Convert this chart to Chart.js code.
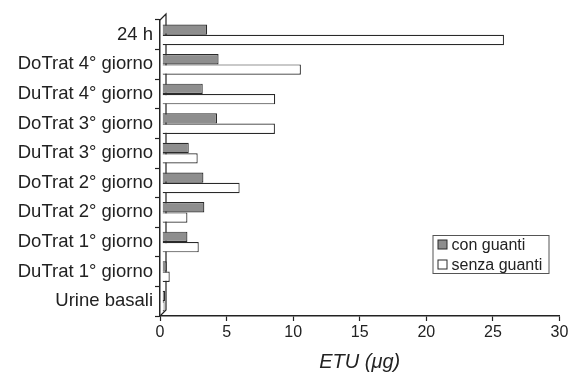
<!DOCTYPE html>
<html>
<head>
<meta charset="utf-8">
<script src="https://cdn.jsdelivr.net/npm/chart.js@4"></script>
<style>
  html, body { margin: 0; padding: 0; background: #fff; }
  #wrap { width: 568px; height: 377px; }
</style>
</head>
<body>
<div id="wrap"><canvas id="myChart" width="568" height="377"></canvas></div>
<script>
// categories top -> bottom
const categories = ["24 h", "DoTrat 4° giorno", "DuTrat 4° giorno", "DoTrat 3° giorno", "DuTrat 3° giorno",
  "DoTrat 2° giorno", "DuTrat 2° giorno", "DoTrat 1° giorno", "DuTrat 1° giorno", "Urine basali"];
const conGuanti = [3.54, 4.40, 3.21, 4.28, 2.16, 3.26, 3.33, 2.06, 0.51, 0.39];
const senzaGuanti = [25.83, 10.58, 8.65, 8.63, 2.83, 5.98, 2.06, 2.91, 0.73, 0.34];
const xTicks = [0, 5, 10, 15, 20, 25, 30];

const ink = "#222";
const font = "Arial, 'Liberation Sans', sans-serif";

// pseudo 3d back wall lines like the excel chart
const wallPlugin = {
  id: "wall",
  beforeDatasetsDraw(chart) {
    const a = chart.chartArea, ctx = chart.ctx, d = 6;
    ctx.save();
    ctx.strokeStyle = ink;
    ctx.lineWidth = 1.2;
    ctx.beginPath();
    ctx.moveTo(a.left, a.top);
    ctx.lineTo(a.left + d, a.top - d);
    ctx.lineTo(a.left + d, a.bottom - d);
    ctx.lineTo(a.left, a.bottom);
    ctx.stroke();
    ctx.restore();
  }
};

// boxed legend inside plot area
const legendBox = {
  id: "legendBox",
  afterDraw(chart) {
    const a = chart.chartArea, ctx = chart.ctx;
    const x1 = a.right - 127, x2 = a.right - 11, y1 = a.bottom - 81, y2 = a.bottom - 43;
    ctx.save();
    ctx.fillStyle = "#fff";
    ctx.fillRect(x1, y1, x2 - x1, y2 - y1);
    ctx.strokeStyle = "#555";
    ctx.lineWidth = 1;
    ctx.strokeRect(x1 + 0.5, y1 + 0.5, x2 - x1, y2 - y1);
    ctx.font = "16px " + font;
    ctx.textBaseline = "middle";
    chart.data.datasets.forEach((ds, i) => {
      const cy = y1 + 9.5 + i * 20;
      ctx.fillStyle = ds.backgroundColor;
      ctx.fillRect(x1 + 5.5, cy - 4.5, 9, 9);
      ctx.strokeStyle = ds.borderColor;
      ctx.strokeRect(x1 + 5.5, cy - 4.5, 9, 9);
      ctx.fillStyle = ink;
      ctx.fillText(ds.label, x1 + 19, cy + 1);
    });
    ctx.restore();
  }
};

const barStyle = { borderColor: "#2a2a2a", borderWidth: 1.2, base: 0.2, categoryPercentage: 0.7, barPercentage: 1 };

new Chart("myChart", {
  type: "bar",
  data: {
    labels: categories,
    datasets: [
      Object.assign({ label: "con guanti", data: conGuanti, backgroundColor: "#8e8e8e" }, barStyle),
      Object.assign({ label: "senza guanti", data: senzaGuanti, backgroundColor: "#fff" }, barStyle)
    ]
  },
  options: {
    indexAxis: "y",
    responsive: false,
    animation: false,
    layout: { padding: { top: 20, right: 8.5, left: 0, bottom: 0 } },
    plugins: { legend: { display: false }, tooltip: { enabled: false } },
    scales: {
      x: {
        min: 0, max: 30,
        afterBuildTicks: (s) => { s.ticks = xTicks.map(v => ({ value: v })); },
        afterFit: (s) => { s.height = 61; s.paddingRight = 0; s.paddingLeft = 0; },
        grid: { drawOnChartArea: false, tickLength: 5, color: ink, tickWidth: 1.2 },
        border: { color: ink, width: 1.5 },
        ticks: { color: ink, font: { size: 16, family: font }, padding: 2, maxRotation: 0 },
        title: { display: true, text: "ETU (μg)", color: ink, font: { size: 20, style: "italic", family: font }, padding: { top: 0, bottom: 3 } }
      },
      y: {
        afterFit: (s) => { s.width = 160; },
        grid: { drawOnChartArea: false, offset: true, tickLength: 5, color: ink, tickWidth: 1.2 },
        border: { color: ink, width: 1.5 },
        ticks: { color: ink, font: { size: 18.5, family: font }, padding: 2, autoSkip: false }
      }
    }
  },
  plugins: [wallPlugin, legendBox]
});
</script>
</body>
</html>
